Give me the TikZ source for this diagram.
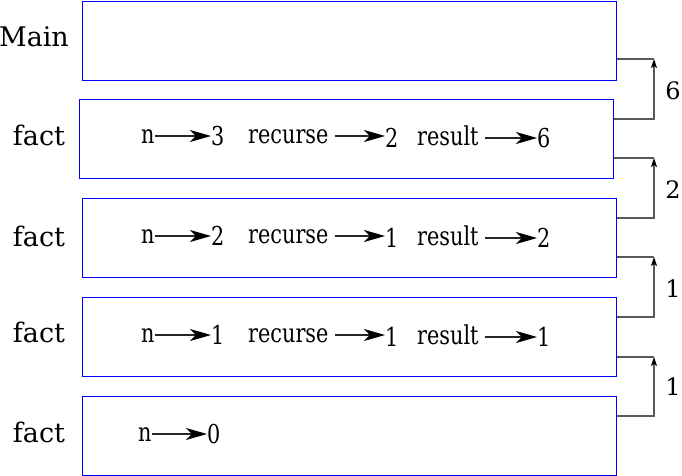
\documentclass[tikz,border=0pt]{standalone}
\usepackage{fontspec}
\setmainfont{DejaVu Serif}
\newfontfamily\condfont[FakeStretch=0.8]{DejaVu Serif}
\usetikzlibrary{arrows.meta,calc}
\begin{document}
\begin{tikzpicture}[x=1pt,y=-1pt,
  frame/.style={draw=blue,line width=1.1pt,inner sep=0pt,anchor=north west,
    minimum width=534pt,minimum height=79pt},
  flabel/.style={font=\fontsize{27}{30}\selectfont,anchor=base,inner sep=0pt},
  var/.style={font=\condfont\fontsize{26}{30}\selectfont,anchor=base west,inner sep=0pt},
  ptr/.style={draw=black!85,line width=1.4pt,-{Stealth[length=21pt,width=12pt,inset=6pt,black]}},
  ret/.style={draw=black!65,line width=1.1pt},
  reta/.style={ret,-{Stealth[length=9pt,width=6pt,inset=2pt,black]}},
  rlabel/.style={font=\fontsize{24}{28}\selectfont,anchor=base,inner sep=0pt}]
\useasboundingbox (0,0) rectangle (682,476);
% frames
\node[frame] (main) at (82,0.6) {};
\node[frame] (f1) at (79,99) {};
\node[frame] (f2) at (82,198) {};
\node[frame] (f3) at (82,297) {};
\node[frame] (f4) at (82,396) {};
% frame labels
\node[flabel] (lmain) at (34,47) {Main};
\node[flabel] (l1) at (39,145) {fact};
\node[flabel] (l2) at (39,246) {fact};
\node[flabel] (l3) at (39,342) {fact};
\node[flabel] (l4) at (39,442) {fact};
% row 1
\node[var] (n1) at (141,143) {n};
\node[var] (a1) at (211,145) {3};
\node[var] (r1) at (248,143) {recurse};
\node[var] (b1) at (385,147) {2};
\node[var] (s1) at (417,145) {result};
\node[var] (c1) at (537,147) {6};
% row 2
\node[var] (n2) at (141,243) {n};
\node[var] (a2) at (211,245) {2};
\node[var] (r2) at (248,243) {recurse};
\node[var] (b2) at (385,247) {1};
\node[var] (s2) at (417,245) {result};
\node[var] (c2) at (537,247) {2};
% row 3
\node[var] (n3) at (141,342) {n};
\node[var] (a3) at (211,344) {1};
\node[var] (r3) at (248,342) {recurse};
\node[var] (b3) at (385,346) {1};
\node[var] (s3) at (417,344) {result};
\node[var] (c3) at (537,346) {1};
% row 4
\node[var] (n4) at (138,441) {n};
\node[var] (a4) at (207,443) {0};
% pointer arrows
\foreach \r in {1,2,3}{
  \draw[ptr] ([xshift=0.5pt,yshift=7pt]n\r.base east) -- ([yshift=7pt]n\r.base east -| a\r.west);
  \draw[ptr] ([xshift=6pt,yshift=7pt]r\r.base east) -- ([yshift=7pt]r\r.base east -| b\r.west);
  \draw[ptr] ([xshift=6pt,yshift=7pt]s\r.base east) -- ([yshift=7pt]s\r.base east -| c\r.west);
}
\draw[ptr] ([xshift=0.5pt,yshift=7pt]n4.base east) -- ([yshift=7pt]n4.base east -| a4.west);
% return connectors
\coordinate (t1) at (654,59);
\coordinate (t2) at (654,158);
\coordinate (t3) at (654,257);
\coordinate (t4) at (654,357);
\draw[reta] (f1.east |- 0,119) -| (t1);
\draw[ret] (t1) -- (main.east |- t1);
\draw[reta] (f2.east |- 0,218) -| (t2);
\draw[ret] (t2) -- (f1.east |- t2);
\draw[reta] (f3.east |- 0,317) -| (t3);
\draw[ret] (t3) -- (f2.east |- t3);
\draw[reta] (f4.east |- 0,416) -| (t4);
\draw[ret] (t4) -- (f3.east |- t4);
% return values
\node[rlabel] (v1) at (673,100) {6};
\node[rlabel] (v2) at (673,198) {2};
\node[rlabel] (v3) at (673,297) {1};
\node[rlabel] (v4) at (673,395) {1};
\end{tikzpicture}
\end{document}
